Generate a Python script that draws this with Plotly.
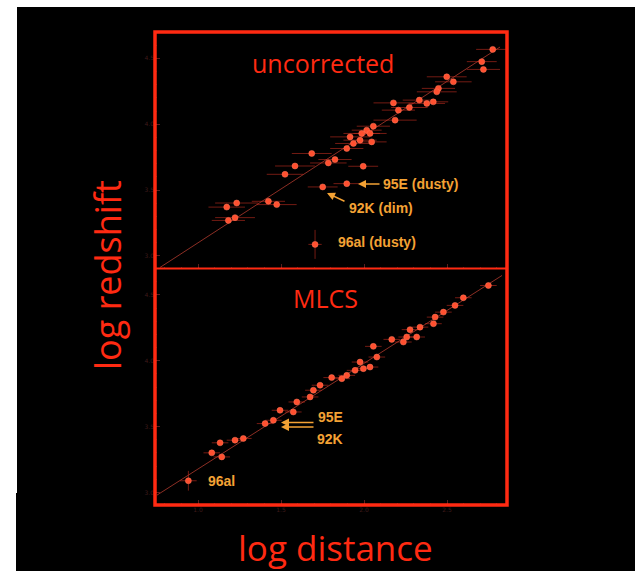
import plotly.graph_objects as go
from plotly.subplots import make_subplots

# ---------------- data ----------------
# upper panel: uncorrected distances
top_x = [2.775, 2.709, 2.719, 2.498, 2.538, 2.448, 2.438, 2.333, 2.378, 2.417,
         2.177, 2.207, 2.273, 2.187, 2.056, 2.016, 1.986, 2.036, 1.916, 1.976,
         2.046, 1.936, 1.896, 1.685, 1.825, 1.785, 1.995, 1.584, 1.524, 1.896,
         1.751, 1.424, 1.474, 1.233, 1.173, 1.223, 1.183, 1.705]
top_y = [4.568, 4.475, 4.416, 4.360, 4.322, 4.272, 4.246, 4.183, 4.158, 4.170,
         4.162, 4.107, 4.127, 4.031, 3.985, 3.955, 3.930, 3.930, 3.904, 3.879,
         3.866, 3.854, 3.816, 3.778, 3.732, 3.706, 3.681, 3.683, 3.620, 3.549,
         3.524, 3.415, 3.390, 3.402, 3.371, 3.291, 3.270, 3.088]
top_xerr = [0.10, 0.09, 0.10, 0.12, 0.11, 0.10, 0.12, 0.10, 0.11, 0.09,
            0.12, 0.10, 0.11, 0.13, 0.10, 0.09, 0.11, 0.10, 0.12, 0.10,
            0.09, 0.11, 0.10, 0.12, 0.10, 0.11, 0.09, 0.12, 0.11, 0.08,
            0.09, 0.10, 0.12, 0.13, 0.11, 0.12, 0.10, 0.04]
top_yerr = [0.01] * 37 + [0.11]

# lower panel: MLCS corrected distances
bot_x = [2.749, 2.598, 2.548, 2.478, 2.428, 2.418, 2.337, 2.277, 2.317, 2.257,
         2.237, 2.167, 2.056, 2.077, 1.976, 2.036, 1.996, 1.946, 1.896, 1.866,
         1.805, 1.735, 1.695, 1.675, 1.595, 1.574, 1.494, 1.454, 1.404, 1.273,
         1.223, 1.133, 1.083, 1.143, 0.942]
bot_y = [4.571, 4.478, 4.420, 4.369, 4.331, 4.281, 4.255, 4.236, 4.180, 4.180,
         4.142, 4.162, 4.109, 4.028, 3.990, 3.952, 3.940, 3.927, 3.889, 3.864,
         3.872, 3.814, 3.776, 3.725, 3.687, 3.611, 3.624, 3.548, 3.523, 3.410,
         3.397, 3.377, 3.301, 3.270, 3.089]
bot_xerr = [0.05] * 35
bot_yerr = [0.01] * 34 + [0.075]

# Hubble-law fit lines
fit_x_top = [0.771, 2.819]
fit_y_top = [2.913, 4.586]
fit_x_bot = [0.753, 2.831]
fit_y_bot = [2.980, 4.647]

x_ticks = [1.0, 1.5, 2.0, 2.5]
x_ticklabels = ["1.0", "1.5", "2.0", "2.5"]
y_ticks = [3.0, 3.5, 4.0, 4.5]
y_ticklabels = ["3.0", "3.5", "4.0", "4.5"]

# ---------------- layout constants ----------------
W, H = 635, 571
# plot area in screenshot coordinates (page margin removed below)
L_S, R_S, T_S, B_S = 155, 507, 32, 505
ML, MR, MT, MB = L_S, W - R_S, T_S, H - B_S
PW, PH = R_S - L_S, B_S - T_S


def px(xp):  # screenshot x -> paper
    return (xp - L_S) / PW


def py(yp):  # screenshot y -> paper
    return (B_S - yp) / PH


RED = "#ff2a12"
PT = "#ff5030"
ERR = "rgba(210,50,35,0.55)"
ORANGE = "#f4a234"

fig = make_subplots(rows=2, cols=1, shared_xaxes=True, vertical_spacing=0)

fig.add_trace(go.Scatter(x=fit_x_top, y=fit_y_top, mode="lines",
                         line=dict(color="rgba(215,70,55,0.65)", width=1),
                         hoverinfo="skip"), row=1, col=1)
fig.add_trace(go.Scatter(x=fit_x_bot, y=fit_y_bot, mode="lines",
                         line=dict(color="rgba(215,70,55,0.65)", width=1),
                         hoverinfo="skip"), row=2, col=1)

fig.add_trace(go.Scatter(
    x=top_x, y=top_y, mode="markers",
    error_x=dict(type="data", array=top_xerr, color=ERR, thickness=1, width=0),
    error_y=dict(type="data", array=top_yerr, color=ERR, thickness=1, width=0),
    marker=dict(size=6, color=PT, line=dict(width=1, color="rgba(255,120,90,0.5)"))),
    row=1, col=1)
fig.add_trace(go.Scatter(
    x=bot_x, y=bot_y, mode="markers",
    error_x=dict(type="data", array=bot_xerr, color=ERR, thickness=1, width=0),
    error_y=dict(type="data", array=bot_yerr, color=ERR, thickness=1, width=0),
    marker=dict(size=6, color=PT, line=dict(width=1, color="rgba(255,120,90,0.5)"))),
    row=2, col=1)

axis_common = dict(showgrid=False, zeroline=False, showline=False,
                   ticks="inside", ticklen=5, tickcolor="rgba(150,50,50,0.6)",
                   tickfont=dict(size=6, color="#3e1a1a", family="DejaVu Sans"),
                   minor=dict(ticks="inside", ticklen=2,
                              tickcolor="rgba(150,50,50,0.5)", nticks=5))

fig.update_xaxes(range=[0.741, 2.861], tickvals=x_ticks, ticktext=x_ticklabels,
                 **axis_common)
fig.update_xaxes(showticklabels=False, row=1, col=1)
fig.update_xaxes(showticklabels=True, row=2, col=1)
fig.update_yaxes(range=[2.905, 4.70], tickvals=y_ticks, ticktext=y_ticklabels,
                 **axis_common)
fig.update_layout(yaxis=dict(domain=[0.5, 1.0]), yaxis2=dict(domain=[0.0, 0.5]))

shapes = [
    # white borders of the slide picture
    dict(type="rect", xref="paper", yref="paper", x0=px(-5), x1=px(W + 5),
         y0=py(7), y1=py(-5), fillcolor="white", line=dict(width=0),
         layer="above"),
    dict(type="rect", xref="paper", yref="paper", x0=px(-5), x1=px(17),
         y0=py(493), y1=py(-5), fillcolor="white", line=dict(width=0),
         layer="above"),
    dict(type="rect", xref="paper", yref="paper", x0=px(-5), x1=px(16),
         y0=py(H + 5), y1=py(493), fillcolor="white", line=dict(width=0),
         layer="above"),
    # frame
    dict(type="rect", xref="paper", yref="paper", x0=0, x1=1, y0=0, y1=1,
         line=dict(color=RED, width=3.5)),
    dict(type="line", xref="paper", yref="paper", x0=0, x1=1, y0=0.5, y1=0.5,
         line=dict(color=RED, width=2)),
]

ann = []


def text(xp, yp, s, size, color, xanchor="center", family="Open Sans", bold=False):
    ann.append(dict(xref="paper", yref="paper", x=px(xp), y=py(yp), text=s,
                    showarrow=False, xanchor=xanchor, yanchor="middle",
                    font=dict(size=size, color=color, family=family,
                              weight="bold" if bold else "normal")))


def arrow(hx, hy, tx, ty):
    ann.append(dict(xref="paper", yref="paper", x=px(hx), y=py(hy), text="",
                    showarrow=True, ax=tx - hx, ay=ty - hy, arrowhead=2,
                    arrowsize=1, arrowwidth=1.6, arrowcolor=ORANGE))


text(323, 63, "uncorrected", 25, RED)
text(325, 298, "MLCS", 25, RED)
text(335, 547, "log distance", 35, RED)
ann.append(dict(xref="paper", yref="paper", x=px(107), y=py(275),
                text="log redshift", textangle=-90, showarrow=False,
                xanchor="center", yanchor="middle",
                font=dict(size=36, color=RED, family="Open Sans")))

FB = "Liberation Sans"
text(381, 184, "95E (dusty)", 14, ORANGE, "left", FB, True)
arrow(358, 184, 381, 184)
text(347, 208, "92K (dim)", 14, ORANGE, "left", FB, True)
arrow(327, 193, 346, 202)
text(336, 242, "96al (dusty)", 14, ORANGE, "left", FB, True)

text(316, 417, "95E", 14, ORANGE, "left", FB, True)
text(315, 439, "92K", 14, ORANGE, "left", FB, True)
arrow(281, 422.5, 315, 422.5)
arrow(281, 427, 315, 427)
text(206, 481, "96al", 14, ORANGE, "left", FB, True)

fig.update_layout(
    width=W, height=H, margin=dict(l=ML, r=MR, t=MT, b=MB),
    paper_bgcolor="black", plot_bgcolor="black", showlegend=False,
    shapes=shapes, annotations=ann,
)

fig.write_html("out.html",
               config={"displayModeBar": False},
               post_script="document.body.style.margin='0';"
                           "document.documentElement.style.overflow='hidden';"
                           "document.body.style.overflow='hidden';")
